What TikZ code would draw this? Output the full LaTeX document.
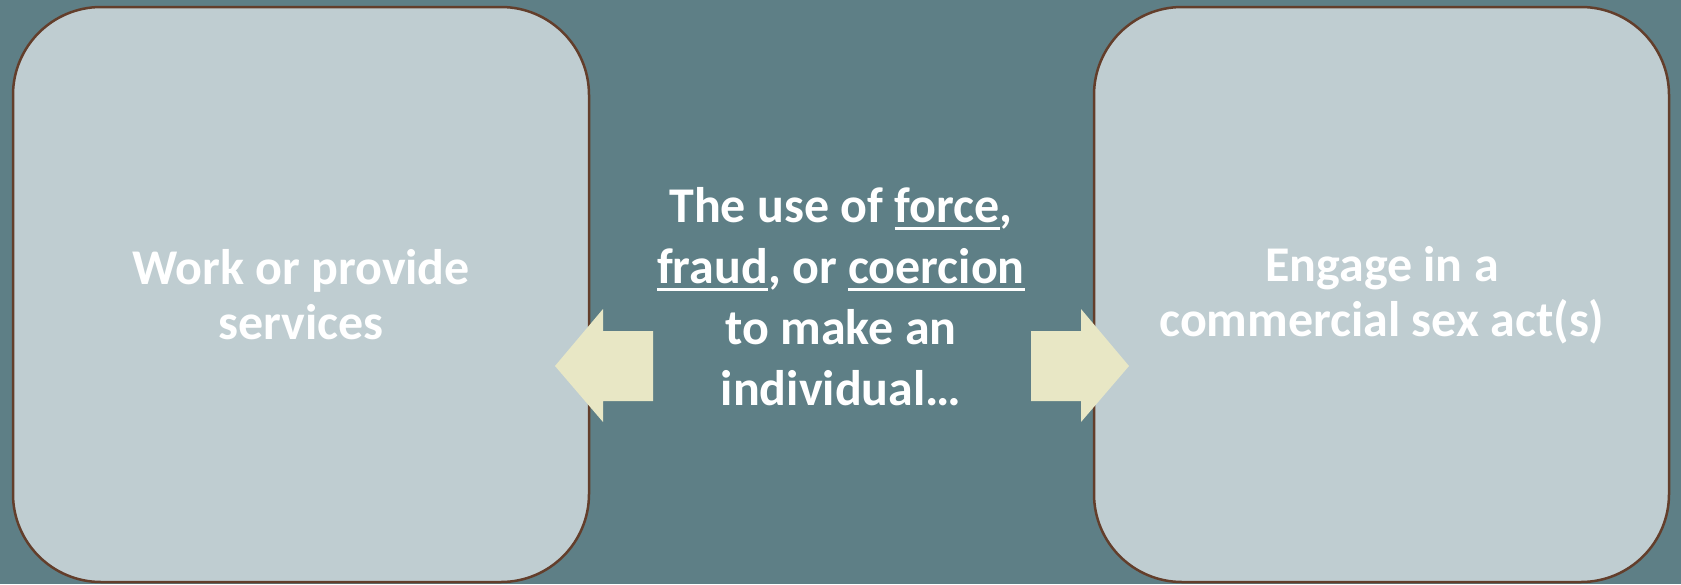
\documentclass[tikz,border=0pt]{standalone}
\usepackage{fontspec}
\setmainfont{Carlito}
\definecolor{bgc}{RGB}{94,127,134}
\definecolor{boxfill}{RGB}{191,205,209}
\definecolor{boxline}{RGB}{99,62,43}
\definecolor{arrowfill}{RGB}{232,231,197}
\newcommand\ulw[1]{\setbox0\hbox{#1}\rlap{\rule[-7pt]{\wd0}{3pt}}\box0}
\tikzset{
  bigbox/.style={draw=boxline, line width=2.5pt, fill=boxfill, rounded corners=88pt},
  boxtext/.style={text=white, font=\bfseries\fontsize{50}{55}\selectfont, align=center},
  midtext/.style={text=white, font=\bfseries\fontsize{50}{61}\selectfont, align=center},
  fatarrow/.style={fill=arrowfill, draw=none}
}
\begin{document}
\begin{tikzpicture}[x=1pt,y=-1pt]
\fill[bgc] (0,0) rectangle (1681,584);
\useasboundingbox (0,0) rectangle (1681,584);
\draw[bigbox] (13,7) rectangle (589,582);
\draw[bigbox] (1094,7) rectangle (1669,582);
\node[boxtext] (left) at (301,295) {Work or provide\\services};
\node[boxtext] (right) at (1382,295) {Engage in a\\commercial sex act(s)};
\node[midtext] (mid) at (841,297) {The use of \ulw{force},\\\ulw{fraud}, or \ulw{coercion}\\to make an\\individual…};
\fill[fatarrow] (653,331) -- (603,331) -- (603,309) -- (555,366) -- (603,422) -- (603,401) -- (653,401) -- cycle;
\fill[fatarrow] (1031,331) -- (1081,331) -- (1081,309) -- (1129,366) -- (1081,422) -- (1081,401) -- (1031,401) -- cycle;
\end{tikzpicture}
\end{document}
